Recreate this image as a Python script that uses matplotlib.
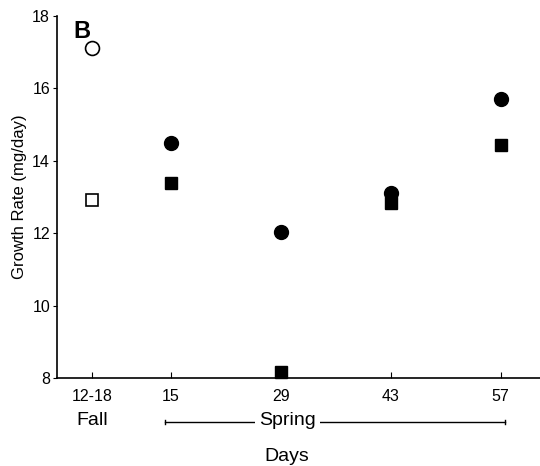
import matplotlib
matplotlib.use("Agg")
import matplotlib.pyplot as plt
from matplotlib.transforms import blended_transform_factory

plt.rcParams['font.family'] = ['Liberation Sans', 'DejaVu Sans']

# Data
tick_positions = [5, 15, 29, 43, 57]
tick_labels = ['12-18', '15', '29', '43', '57']

fall_x = [5]
fall_circle = [17.12]
fall_square = [12.92]

spring_x = [15, 29, 43, 57]
spring_circle = [14.49, 12.03, 13.11, 15.71]
spring_square = [13.39, 8.17, 12.83, 14.44]

fig = plt.figure(figsize=(5.4, 4.66), dpi=100)
ax = fig.add_axes([0.1056, 0.1888, 0.8944, 0.7768])

ax.plot(fall_x, fall_circle, 'o', mfc='white', mec='black', mew=1.2, ms=10, clip_on=False)
ax.plot(fall_x, fall_square, 's', mfc='white', mec='black', mew=1.2, ms=8.5, clip_on=False)
ax.plot(spring_x, spring_circle, 'o', color='black', ms=10, clip_on=False, zorder=3)
ax.plot(spring_x, spring_square, 's', color='black', ms=8.5, clip_on=False, zorder=3)

ax.set_xlim(0.5, 62)
ax.set_ylim(8, 18)
ax.set_yticks([8, 10, 12, 14, 16, 18])
ax.set_xticks(tick_positions)
ax.set_xticklabels(tick_labels)
ax.tick_params(axis='x', direction='in', length=4, pad=8, labelsize=11.5)
ax.tick_params(axis='y', direction='out', length=3, pad=2, labelsize=11.5)
for s in ['top', 'right']:
    ax.spines[s].set_visible(False)
ax.spines['left'].set_linewidth(1.2)
ax.spines['bottom'].set_linewidth(1.2)

ax.set_ylabel('Growth Rate (mg/day)', fontsize=12, labelpad=4)

ax.text(0.034, 0.99, 'B', transform=ax.transAxes, fontsize=17, fontweight='bold',
        va='top', ha='left')

tr = blended_transform_factory(ax.transData, fig.transFigure)
ax.text(5, 0.098, 'Fall', transform=tr, ha='center', va='center', fontsize=14)
ax.text(29.8, 0.098, 'Spring', transform=tr, ha='center', va='center', fontsize=14,
        bbox=dict(facecolor='white', edgecolor='none', pad=3), zorder=5)
ax.plot([14.3, 57.6], [0.0944, 0.0944], color='black', lw=1, transform=tr, clip_on=False)
for xe in [14.3, 57.6]:
    ax.plot([xe, xe], [0.0904, 0.0984], color='black', lw=1, transform=tr, clip_on=False)
ax.text(29.7, 0.02, 'Days', transform=tr, ha='center', va='center', fontsize=14)

fig.savefig('out.png', dpi=100)
